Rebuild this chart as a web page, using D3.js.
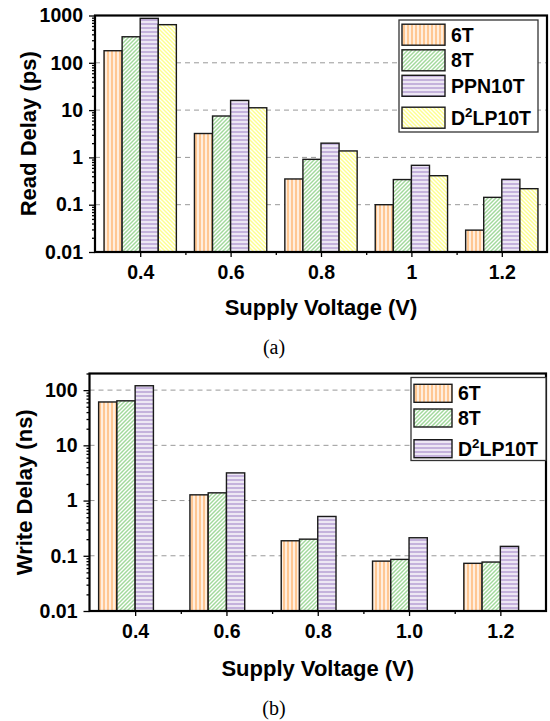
<!DOCTYPE html>
<html>
<head>
<meta charset="utf-8">
<script src="https://cdn.jsdelivr.net/npm/d3@7"></script>
<style>
  body { margin: 0; background: #fff; }
  text { font-family: "Liberation Sans", Arial, sans-serif; font-weight: bold; fill: #000; }
  .caption { font-family: "Liberation Serif", "Times New Roman", serif; font-weight: normal; }
</style>
</head>
<body>
<svg id="chart" width="550" height="721"></svg>
<script>
// (a) read delay, ps
const voltagesA = [0.4, 0.6, 0.8, 1.0, 1.2]
const tickLabelsA = ["0.4", "0.6", "0.8", "1", "1.2"]
const read6T = [180, 3.2, 0.35, 0.1, 0.029]
const read8T = [355, 7.5, 0.91, 0.34, 0.143]
const readPPN10T = [870, 16, 2.0, 0.68, 0.344]
const readD2LP10T = [640, 11.2, 1.37, 0.41, 0.218]
const yTicksA = [0.01, 0.1, 1, 10, 100, 1000]

// (b) write delay, ns
const voltagesB = [0.4, 0.6, 0.8, 1.0, 1.2]
const tickLabelsB = ["0.4", "0.6", "0.8", "1.0", "1.2"]
const write6T = [61, 1.27, 0.187, 0.080, 0.073]
const write8T = [64, 1.38, 0.20, 0.086, 0.077]
const writeD2LP10T = [120, 3.17, 0.515, 0.212, 0.148]
const yTicksB = [0.01, 0.1, 1, 10, 100]

const chart = d3.select('#chart')

// hatch patterns: base colour + white stripes
const defs = chart.append('defs')
function hatch(id, color, path, size) {
    const p = defs.append('pattern')
        .attr('id', id)
        .attr('patternUnits', 'userSpaceOnUse')
        .attr('width', size).attr('height', size)
    p.append('rect').attr('width', size).attr('height', size).attr('fill', color)
    p.append('path').attr('d', path).attr('stroke', '#fff').attr('stroke-width', 1.4)
}
hatch('p6T', '#ffc792', 'M2,0V4', 4)
hatch('p8T', '#a2d99c', 'M-1,5L5,-1M-1,1L1,-1M3,5L5,3', 4)
hatch('pPPN', '#c4b2dc', 'M0,2H4', 4)
hatch('pD2LP', '#ffff8e', 'M-1,-1L5,5M3,-1L5,1M-1,3L1,5', 4)

const seriesA = [
    { name: '6T', values: read6T, fill: 'url(#p6T)' },
    { name: '8T', values: read8T, fill: 'url(#p8T)' },
    { name: 'PPN10T', values: readPPN10T, fill: 'url(#pPPN)' },
    { name: 'D2LP10T', values: readD2LP10T, fill: 'url(#pD2LP)' }
]
// in (b) the D2LP10T cell uses the purple horizontal hatch
const seriesB = [
    { name: '6T', values: write6T, fill: 'url(#p6T)' },
    { name: '8T', values: write8T, fill: 'url(#p8T)' },
    { name: 'D2LP10T', values: writeD2LP10T, fill: 'url(#pPPN)' }
]

function minorTicks(lo, hi) {
    const out = []
    for (let d = lo; d < hi; d *= 10) {
        for (let k = 2; k < 10; k++) if (d * k <= hi) out.push(d * k)
    }
    return out
}

function label(sel, name) {
    if (name === 'D2LP10T') {
        sel.append('tspan').text('D')
        sel.append('tspan').text('2').attr('font-size', '0.68em').attr('dy', '-0.55em')
        sel.append('tspan').text('LP10T').attr('dy', '0.37em')
    } else sel.text(name)
}

function drawPanel(o) {
    const g = chart.append('g')
    const x = d3.scaleLinear().domain([0.3, 1.3]).range([o.left, o.right])
    const y = d3.scaleLog().domain(o.yDomain).range([o.bottom, o.top])
    const bw = x(0.04) - x(0)

    // gridlines
    g.selectAll()
        .data(o.yTicks.slice(1).filter(t => y(t) > o.top + 1))
        .enter()
        .append('line')
        .attr('x1', o.left).attr('x2', o.right)
        .attr('y1', d => y(d)).attr('y2', d => y(d))
        .attr('stroke', '#999').attr('stroke-width', 1).attr('stroke-dasharray', '5,4')

    // bars
    o.series.forEach((s, i) => {
        g.selectAll()
            .data(s.values)
            .enter()
            .append('rect')
            .attr('x', (d, j) => x(o.voltages[j]) - 2 * bw + i * bw)
            .attr('y', d => y(d))
            .attr('width', bw)
            .attr('height', d => y(o.yDomain[0]) - y(d))
            .attr('fill', s.fill)
            .attr('stroke', '#1a1a1a').attr('stroke-width', 1.4)
    })

    // y axis
    g.append('g')
        .attr('transform', `translate(${o.left},0)`)
        .call(d3.axisLeft(y).tickValues(minorTicks(o.yDomain[0], o.yDomain[1])).tickSize(3).tickFormat(''))
    g.append('g')
        .attr('transform', `translate(${o.left},0)`)
        .call(d3.axisLeft(y).tickValues(o.yTicks).tickSize(6).tickPadding(6).tickFormat(d => String(d)))
        .attr('font-size', 19.5)

    // x axis
    g.append('g')
        .attr('transform', `translate(0,${o.bottom})`)
        .call(d3.axisBottom(x).tickValues([0.5, 0.7, 0.9, 1.1]).tickSize(3).tickFormat(''))
    g.append('g')
        .attr('transform', `translate(0,${o.bottom})`)
        .call(d3.axisBottom(x).tickValues(o.voltages).tickSize(5).tickPadding(8).tickFormat((d, i) => o.tickLabels[i]))
        .attr('font-size', 19.5)

    g.selectAll('.domain').remove()
    g.selectAll('.tick line').attr('stroke', '#000').attr('stroke-width', 1.3)
    g.selectAll('.tick text').attr('font-family', null).attr('fill', '#000')

    // frame
    g.append('rect')
        .attr('x', o.left).attr('y', o.top)
        .attr('width', o.right - o.left).attr('height', o.bottom - o.top)
        .attr('fill', 'none').attr('stroke', '#000').attr('stroke-width', 2.2)

    // legend
    const L = o.legend
    g.append('rect')
        .attr('x', L.x).attr('y', L.y).attr('width', L.w).attr('height', L.h)
        .attr('fill', '#fff').attr('stroke', '#333').attr('stroke-width', 1.3)
    o.series.forEach((s, i) => {
        g.append('rect')
            .attr('x', L.x + 3).attr('y', L.rows[i] - L.sh / 2)
            .attr('width', L.sw).attr('height', L.sh)
            .attr('fill', s.fill).attr('stroke', '#1a1a1a').attr('stroke-width', 1.4)
        g.append('text')
            .attr('x', L.x + L.sw + 9).attr('y', L.rows[i] + 7)
            .attr('font-size', 19.5)
            .call(label, s.name)
    })

    // titles
    g.append('text')
        .attr('x', (o.left + o.right) / 2).attr('y', o.xTitleY)
        .attr('text-anchor', 'middle').attr('font-size', 22)
        .text('Supply Voltage (V)')
    g.append('text')
        .attr('transform', `translate(${o.yTitleX},${(o.top + o.bottom) / 2}) rotate(-90)`)
        .attr('text-anchor', 'middle').attr('font-size', 22)
        .text(o.yTitle)
    g.append('text')
        .attr('class', 'caption')
        .attr('x', 274).attr('y', o.captionY)
        .attr('text-anchor', 'middle').attr('font-size', 20)
        .text(o.caption)
}

drawPanel({
    voltages: voltagesA, tickLabels: tickLabelsA, series: seriesA,
    yDomain: [0.01, 1000], yTicks: yTicksA,
    left: 95, right: 547, top: 15.5, bottom: 252,
    legend: { x: 399, y: 20, w: 139, h: 112, sw: 43, sh: 21, rows: [34.7, 60.3, 85.8, 117.7] },
    xTitleY: 315, yTitleX: 36, yTitle: 'Read Delay (ps)', captionY: 354, caption: '(a)'
})

drawPanel({
    voltages: voltagesB, tickLabels: tickLabelsB, series: seriesB,
    yDomain: [0.01, 200], yTicks: yTicksB,
    left: 89.5, right: 546, top: 373.5, bottom: 611,
    legend: { x: 411, y: 377.5, w: 135, h: 83, sw: 38, sh: 18, rows: [393.3, 418, 448.7] },
    xTitleY: 676, yTitleX: 32, yTitle: 'Write Delay (ns)', captionY: 715, caption: '(b)'
})
</script>
</body>
</html>
